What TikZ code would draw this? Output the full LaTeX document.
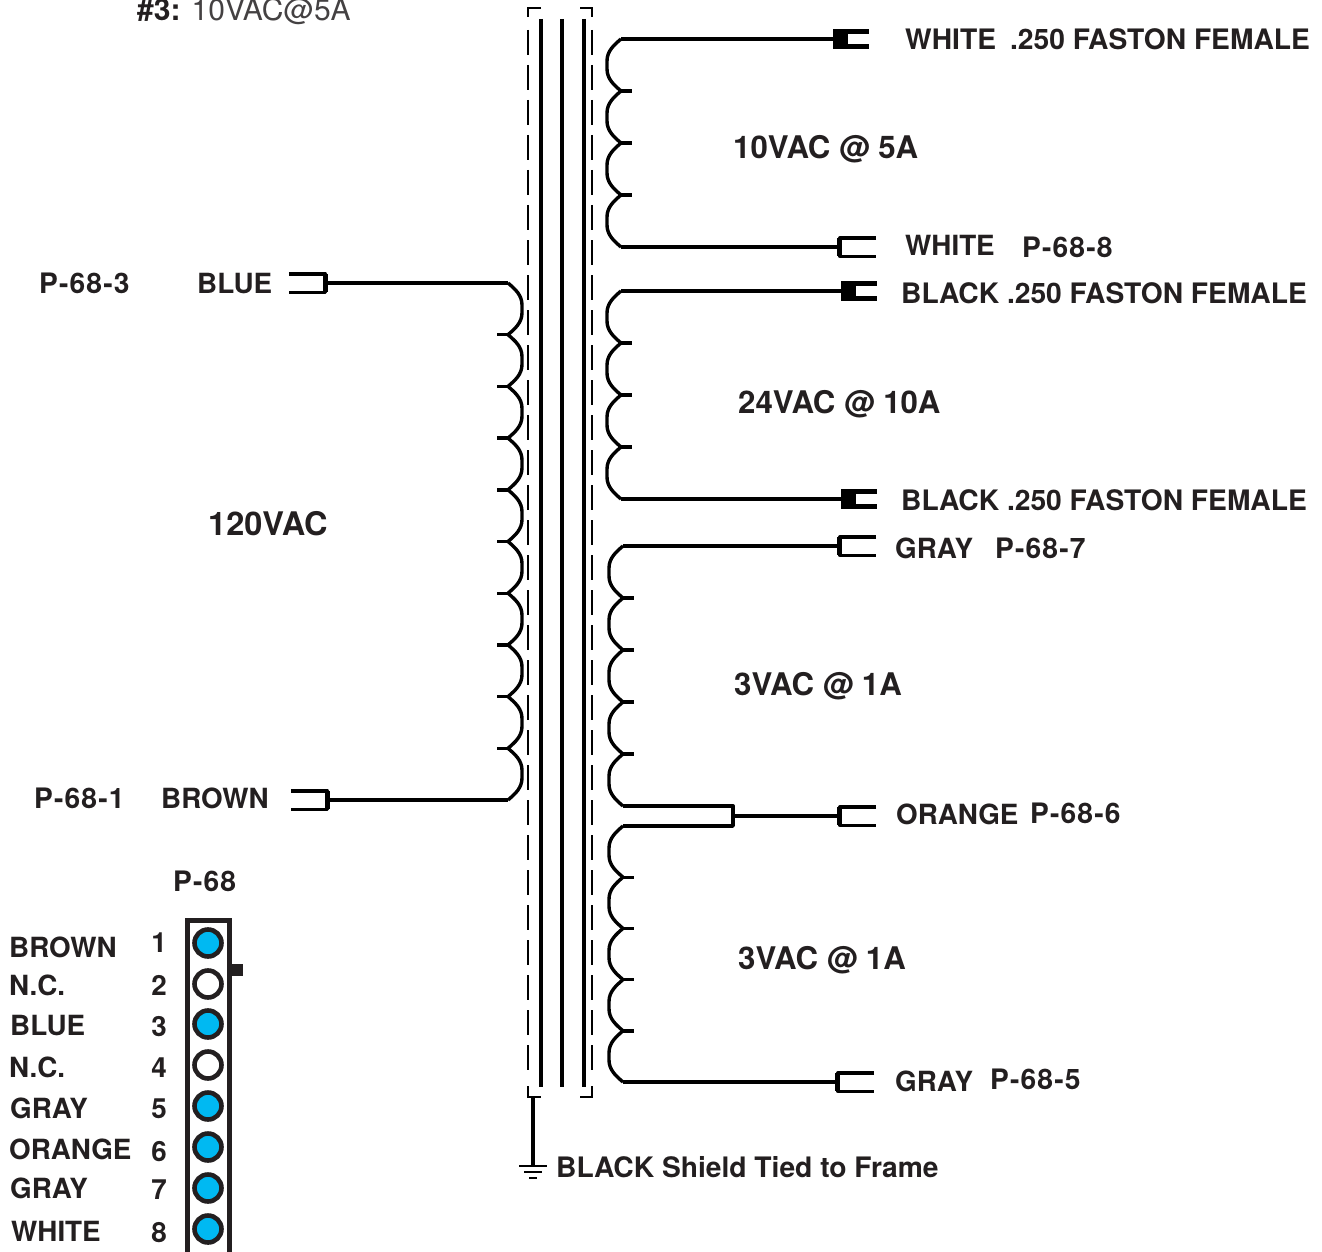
\documentclass[tikz,border=0pt]{standalone}
\usepackage{fontspec}
\setmainfont{TeX Gyre Heros}
\usetikzlibrary{positioning}
\definecolor{ink}{HTML}{231F20}
\definecolor{pinblue}{HTML}{00B9F2}
\tikzset{
wire/.style={draw=black,line width=3.4pt,line join=round},
core/.style={draw=black,line width=3.6pt},
shield/.style={draw=black,line width=2pt},
lab/.style={anchor=base west,inner sep=0pt,text=ink,font=\fontsize{27.8}{28}\selectfont\bfseries},
longlab/.style={lab,font=\fontsize{28.2}{28}\selectfont\bfseries},
plab/.style={lab,font=\fontsize{28.2}{28}\selectfont\bfseries\addfontfeature{LetterSpace=4}},
biglab/.style={lab,font=\fontsize{31.2}{31}\selectfont\bfseries},
numlab/.style={lab,anchor=base},
tab/.style={rectangle,inner sep=0pt,minimum width=36pt,minimum height=18pt},
tabR/.style={tab,append after command={\pgfextra{
\draw[wire] (\tikzlastnode.north east) -- (\tikzlastnode.north west) -- (\tikzlastnode.south west) -- (\tikzlastnode.south east);
\draw[line width=5pt] (\tikzlastnode.north west) -- (\tikzlastnode.south west);}}},
tabL/.style={tab,append after command={\pgfextra{
\draw[wire] (\tikzlastnode.north west) -- (\tikzlastnode.north east) -- (\tikzlastnode.south east) -- (\tikzlastnode.south west);
\draw[line width=5pt] (\tikzlastnode.north east) -- (\tikzlastnode.south east);}}},
fork/.style={tab,minimum height=20pt,append after command={\pgfextra{
\fill (\tikzlastnode.north west) rectangle ([xshift=15pt]\tikzlastnode.south west);
\fill (\tikzlastnode.north west) rectangle ([yshift=-5.5pt]\tikzlastnode.north east);
\fill (\tikzlastnode.south west) rectangle ([yshift=5.5pt]\tikzlastnode.south east);}}},
pin/.style={circle,inner sep=0pt,minimum size=27pt,draw=ink,line width=4.6pt,fill=#1},
}
% x, top, turns, height of a turn, side of the cusps
\newcommand{\coil}[5]{%
\begin{scope}[shift={(#1,#2)},xscale=#5]
\foreach \t in {1,...,#3} {
\pgfmathsetmacro{\ya}{(\t-1)*#4}
\pgfmathsetmacro{\yb}{\t*#4}
\draw[wire] (14,\ya) .. controls (7,\ya+6) and (0,\ya+12) .. (0,\ya+22)
-- (0,\yb-22) .. controls (0,\yb-12) and (7,\yb-6) .. (14,\yb);
\ifnum\t>1 \draw[wire] (14,\ya) -- (25,\ya); \fi
}
\end{scope}}

\begin{document}
\begin{tikzpicture}[x=1pt,y=-1pt]
\useasboundingbox (0,0) rectangle (1322,1252);
% core and shield
\foreach \x in {541,562,584}
\draw[core] (\x,19) -- (\x,1087);
\foreach \x in {528,592} {
\draw[shield,dash pattern=on 25pt off 10pt] (\x,30) -- (\x,1078);
}
\coordinate (SHa) at (528,1097);
\coordinate (SHb) at (592,1097);
\draw[shield] (541,8) -| (528,17);
\draw[shield] (580,8) -| (592,17);
\draw[shield] (528,1086) |- (541,1097);
\draw[shield] (592,1086) |- (580,1097);
% ground
\coordinate (GND) at (533,1166);
\draw[line width=3.6pt] (533,1097) -- (GND);
\draw[line width=2pt] (519,1166) -- (547,1166) (524,1172) -- (542,1172) (529,1178) -- (537,1178);
% primary
\coil{522}{283}{10}{51.7}{-1}
\node[tabL] (BLU) at (307,283) {};
\node[tabL] (BRN) at (309,800) {};
\coordinate (PRa) at (508,283);
\coordinate (PRb) at (508,800);
\draw[wire] (BLU.east) -- (PRa);
\draw[wire] (BRN.east) -- (PRb);
% secondaries
\coil{607}{39}{4}{52}{1}
\coil{607}{291}{4}{52}{1}
\coil{609}{546}{5}{52}{1}
\coil{609}{826}{5}{51.2}{1}
\node[fork] (WHa) at (851,39) {};
\node[tabR] (WHb) at (858,247) {};
\node[fork] (BKa) at (859,291) {};
\node[fork] (BKb) at (859,499) {};
\node[tabR] (GYa) at (858,546) {};
\node[tabR] (ORG) at (858,816) {};
\node[tabR] (GYb) at (856,1082) {};
\coordinate (TAP) at (733,816);
\draw[wire] (621,39) -- (WHa.west);
\draw[wire] (621,247) -- (WHb.west);
\draw[wire] (621,291) -- (BKa.west);
\draw[wire] (621,499) -- (BKb.west);
\draw[wire] (623,546) -- (GYa.west);
\draw[wire] (623,806) -| (TAP) |- (623,826);
\draw[wire] (TAP) -- (ORG.west);
\draw[wire] (623,1082) -- (GYb.west);
% labels
\node[lab,font=\fontsize{30}{30}\selectfont\bfseries] at (137,21) {\#3: \mdseries\color{ink!85}10VAC@5A};
\node[longlab] at (905,50) {WHITE\hspace{14pt}.250 FASTON FEMALE};
\node[biglab] at (733,159) {10VAC @ 5A};
\node[lab] at (905,255) {WHITE};
\node[plab] at (1022,257) {P-68-8};
\node[longlab] at (901,303) {BLACK .250 FASTON FEMALE};
\node[biglab] at (738,413) {24VAC @ 10A};
\node[longlab] at (901,510) {BLACK .250 FASTON FEMALE};
\node[lab] at (895,558) {GRAY};
\node[plab] at (995,558) {P-68-7};
\node[biglab] at (734,695) {3VAC @ 1A};
\node[lab] at (896,824) {ORANGE};
\node[plab] at (1030,823) {P-68-6};
\node[biglab] at (738,969) {3VAC @ 1A};
\node[lab] at (895,1091) {GRAY};
\node[plab] at (990,1089) {P-68-5};
\node[longlab] at (556,1177) {BLACK Shield Tied to Frame};
\node[biglab,font=\fontsize{32.5}{32}\selectfont\bfseries] at (208,535) {120VAC};
\node[plab] at (39,293) {P-68-3};
\node[lab] at (197,293) {BLUE};
\node[plab] at (34,808) {P-68-1};
\node[lab] at (161,808) {BROWN};
\node[plab] at (173,891) {P-68};
% connector P-68
\draw[draw=ink,line width=5pt] (187.5,1252) |- (229.5,920.5) -- (229.5,1252);
\fill[ink] (232,964) rectangle (243,976);
\foreach \n/\yp/\ytxt/\ynum/\xtxt/\txt/\col in {
1/943/957/952/9/BROWN/pinblue,
2/984/995/995/9/N.C./white,
3/1024/1035/1036/10/BLUE/pinblue,
4/1065/1077/1077/9/N.C./white,
5/1106/1118/1118/10/GRAY/pinblue,
6/1147/1159/1161/9/ORANGE/pinblue,
7/1188/1198/1199/10/GRAY/pinblue,
8/1229/1241/1242/11/WHITE/pinblue} {
\node[pin=\col] (P\n) at (208,\yp) {};
\node[lab] (W\n) at (\xtxt,\ytxt) {\txt};
\node[numlab] (N\n) at (159,\ynum) {\n};
}
\end{tikzpicture}
\end{document}
